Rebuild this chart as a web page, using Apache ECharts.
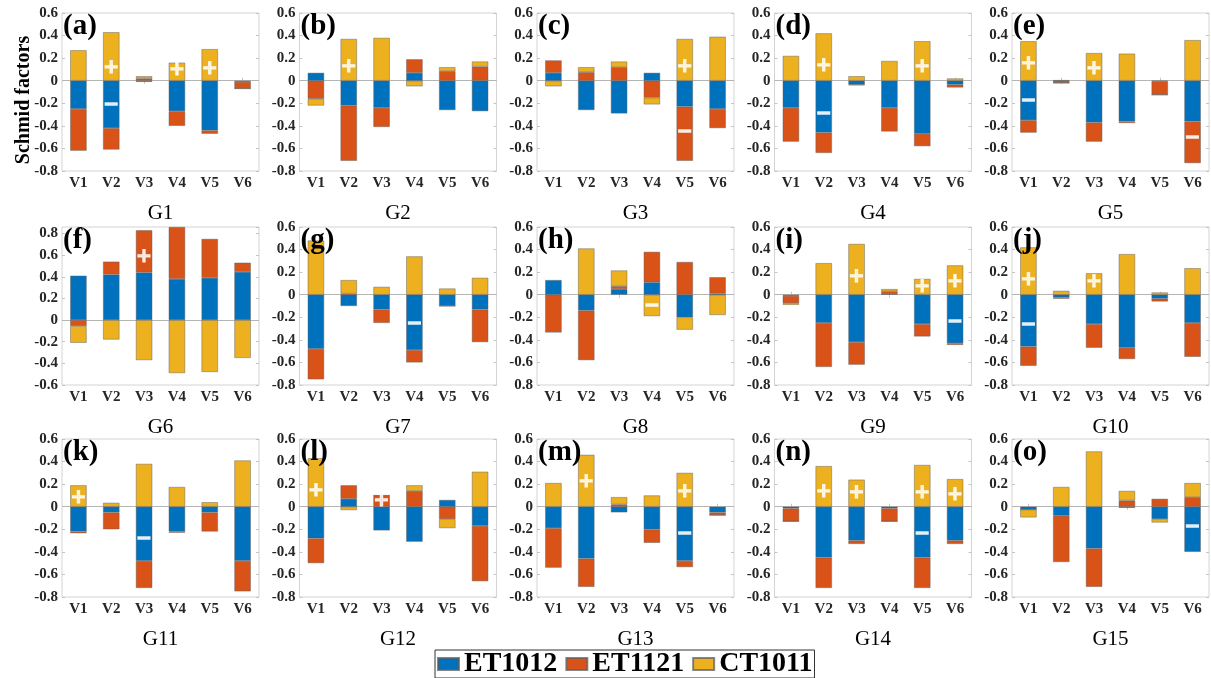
<!DOCTYPE html>
<html><head><meta charset="utf-8">
<script src="https://cdn.jsdelivr.net/npm/echarts@6/dist/echarts.min.js"></script>
<style>html,body{margin:0;padding:0;background:#fff}#c{width:1211px;height:678px}</style>
</head><body><div id="c"></div>
<script>
const categories = ['V1','V2','V3','V4','V5','V6'];
const groupTitles = ['G1','G2','G3','G4','G5','G6','G7','G8','G9','G10','G11','G12','G13','G14','G15'];
const panelLetters = ['(a)','(b)','(c)','(d)','(e)','(f)','(g)','(h)','(i)','(j)','(k)','(l)','(m)','(n)','(o)'];
const seriesNames = ['ET1012','ET1121','CT1011'];

// one row of 6 values (V1..V6) per panel G1..G15
const et1012 = [
  [-0.25,-0.42,-0.01,-0.27,-0.44,-0.01],
  [0.07,-0.22,-0.24,0.07,-0.26,-0.27],
  [0.07,-0.26,-0.29,0.07,-0.23,-0.25],
  [-0.24,-0.46,-0.035,-0.24,-0.47,-0.035],
  [-0.35,0.005,-0.37,-0.36,-0.005,-0.36],
  [0.41,0.42,0.44,0.38,0.39,0.445],
  [-0.48,-0.10,-0.13,-0.49,-0.10,-0.13],
  [0.13,-0.14,0.05,0.11,-0.20,0.01],
  [-0.01,-0.25,-0.42,0.005,-0.26,-0.43],
  [-0.46,-0.025,-0.26,-0.47,-0.035,-0.25],
  [-0.22,-0.05,-0.48,-0.22,-0.05,-0.48],
  [-0.28,0.07,-0.21,-0.31,0.06,-0.17],
  [-0.19,-0.46,-0.05,-0.20,-0.48,-0.05],
  [-0.015,-0.45,-0.30,-0.015,-0.45,-0.30],
  [-0.025,-0.08,-0.37,-0.01,-0.11,-0.40]
];
const et1121 = [
  [-0.37,-0.19,0.02,-0.13,-0.03,-0.06],
  [-0.16,-0.49,-0.17,0.12,0.085,0.125],
  [0.11,0.075,0.12,-0.15,-0.48,-0.17],
  [-0.30,-0.18,-0.005,-0.21,-0.11,-0.025],
  [-0.11,-0.02,-0.17,-0.015,-0.12,-0.37],
  [-0.055,0.12,0.39,0.48,0.36,0.085],
  [-0.27,0.01,-0.12,-0.11,0,-0.29],
  [-0.33,-0.44,0.025,0.27,0.29,0.145],
  [-0.065,-0.39,-0.20,0.025,-0.11,-0.015],
  [-0.17,-0.01,-0.21,-0.10,-0.025,-0.30],
  [-0.015,-0.15,-0.24,-0.01,-0.17,-0.27],
  [-0.22,0.12,0.10,0.14,-0.11,-0.49],
  [-0.35,-0.25,0.02,-0.12,-0.055,-0.025],
  [-0.115,-0.27,-0.03,-0.115,-0.27,-0.03],
  [0,-0.41,-0.34,0.055,0.07,0.085]
];
const ct1011 = [
  [0.27,0.43,0.02,0.16,0.28,0],
  [-0.06,0.37,0.38,-0.05,0.035,0.045],
  [-0.05,0.045,0.05,-0.06,0.37,0.39],
  [0.22,0.42,0.04,0.175,0.35,0.02],
  [0.35,0,0.245,0.24,0,0.36],
  [-0.155,-0.18,-0.37,-0.49,-0.48,-0.35],
  [0.48,0.12,0.07,0.34,0.055,0.15],
  [0,0.41,0.14,-0.19,-0.11,-0.18],
  [-0.015,0.28,0.45,0.02,0.14,0.26],
  [0.42,0.035,0.19,0.36,0.02,0.235],
  [0.19,0.035,0.38,0.175,0.04,0.41],
  [0.43,-0.03,0,0.05,-0.08,0.31],
  [0.21,0.46,0.065,0.10,0.30,0],
  [0,0.36,0.24,0,0.37,0.245],
  [-0.07,0.175,0.49,0.085,-0.03,0.125]
];
const yMin = [-0.8,-0.8,-0.8,-0.8,-0.8,-0.6,-0.8,-0.8,-0.8,-0.8,-0.8,-0.8,-0.8,-0.8,-0.8];
const yMax = [0.6,0.6,0.6,0.6,0.6,0.86,0.6,0.6,0.6,0.6,0.6,0.6,0.6,0.6,0.6];
// [panel, category index, y, sign]
const signs = [
  [0,1,0.11,'+'],[0,1,-0.22,'−'],[0,3,0.09,'+'],[0,4,0.10,'+'],
  [1,1,0.12,'+'],
  [2,4,0.125,'+'],[2,4,-0.455,'−'],
  [3,1,0.13,'+'],[3,1,-0.295,'−'],[3,4,0.125,'+'],
  [4,0,0.15,'+'],[4,0,-0.18,'−'],[4,2,0.10,'+'],[4,5,-0.51,'−'],
  [5,2,0.58,'+'],
  [6,3,-0.26,'−'],
  [7,3,-0.10,'−'],
  [8,2,0.16,'+'],[8,4,0.07,'+'],[8,5,0.11,'+'],[8,5,-0.24,'−'],
  [9,0,0.13,'+'],[9,0,-0.265,'−'],[9,2,0.11,'+'],
  [10,0,0.08,'+'],[10,2,-0.29,'−'],
  [11,0,0.14,'+'],[11,2,0.047,'+'],
  [12,1,0.215,'+'],[12,4,0.13,'+'],[12,4,-0.245,'−'],
  [13,1,0.133,'+'],[13,2,0.12,'+'],[13,4,0.12,'+'],[13,4,-0.245,'−'],[13,5,0.105,'+'],
  [14,5,-0.177,'−']
];

const colors = ['#0072BD','#D95319','#EDB120'];
const values = [et1012, et1121, ct1011];
const SERIF = 'Liberation Serif';
const W = 197, H = 158;
const colLeft = c => 62 + 237.5 * c;
const rowTop = [13, 227, 439];
const tickColor = '#c4c4c4';
const labelColor = '#262626';

const grids = [], xAxes = [], yAxes = [], series = [], graphics = [];
function fmt(v, p) {
  const r = Math.round(v * 10) / 10;
  if (p === 7 && r === -0.8) return '0.8';
  return r === 0 ? '0' : String(r);
}
for (let p = 0; p < 15; p++) {
  const c = p % 5, r = Math.floor(p / 5);
  grids.push({left: colLeft(c), top: rowTop[r], width: W, height: H, show: true,
    borderColor: '#d4d4d4', borderWidth: 1, backgroundColor: 'transparent', containLabel: false});
}
for (let p = 0; p < 15; p++) {
  xAxes.push({gridIndex: p, type: 'category', data: categories, position: 'bottom',
    axisLine: {show: false},
    axisTick: {show: true, inside: true, alignWithLabel: true, length: 3, lineStyle: {color: tickColor}},
    axisLabel: {margin: 5, fontFamily: SERIF, fontWeight: 'bold', fontSize: 15, color: labelColor},
    name: groupTitles[p], nameLocation: 'middle', nameGap: 32,
    nameTextStyle: {fontFamily: SERIF, fontSize: 21, color: '#000'}});
}
for (let p = 0; p < 15; p++) {
  xAxes.push({gridIndex: p, type: 'category', data: categories, position: 'top',
    axisLine: {show: false}, axisLabel: {show: false},
    axisTick: {show: true, inside: true, alignWithLabel: true, length: 3, lineStyle: {color: tickColor}}});
}
for (let p = 0; p < 15; p++) {
  yAxes.push({gridIndex: p, type: 'value', position: 'left', min: yMin[p], max: yMax[p], interval: 0.2,
    axisLine: {show: false}, splitLine: {show: false},
    axisTick: {show: true, inside: true, length: 3, lineStyle: {color: tickColor}},
    axisLabel: {margin: 4, showMaxLabel: p !== 5, fontFamily: SERIF, fontWeight: 'bold', fontSize: 15, color: labelColor,
      formatter: (v) => fmt(v, p)}});
}
for (let p = 0; p < 15; p++) {
  yAxes.push({gridIndex: p, type: 'value', position: 'right', min: yMin[p], max: yMax[p], interval: 0.2,
    axisLine: {show: false}, splitLine: {show: false}, axisLabel: {show: false},
    axisTick: {show: true, inside: true, length: 3, lineStyle: {color: tickColor}}});
}
for (let p = 0; p < 15; p++) {
  for (let s = 0; s < 3; s++) {
    const ser = {type: 'bar', name: seriesNames[s], xAxisIndex: p, yAxisIndex: p, stack: 'p' + p,
      barWidth: '50%', data: values[s][p], z: 3,
      itemStyle: {color: colors[s], borderColor: 'rgba(95,95,95,0.75)', borderWidth: 0.6},
      emphasis: {disabled: true}};
    if (s === 0) {
      ser.markLine = {silent: true, symbol: 'none', label: {show: false}, z: 1,
        lineStyle: {color: '#b5b5b5', width: 1, type: 'solid'}, data: [{yAxis: 0}]};
    }
    series.push(ser);
  }
  const sg = signs.filter(d => d[0] === p).map(d => ({value: [d[1], d[2]], sign: d[3]}));
  if (sg.length) {
    series.push({type: 'scatter', xAxisIndex: p, yAxisIndex: p, z: 10, symbolSize: 1,
      itemStyle: {color: 'rgba(0,0,0,0)'}, silent: true,
      data: sg.map(d => ({value: d.value, label: {formatter: d.sign}})),
      label: {show: true, position: 'inside', color: '#fff', fontFamily: 'DejaVu Sans',
        fontWeight: 'bold', fontSize: 19, textBorderColor: '#fff', textBorderWidth: 1.2}});
  }
  const c = p % 5, r = Math.floor(p / 5);
  graphics.push({type: 'text', z: 100, x: colLeft(c) + 1, y: rowTop[r] + 14,
    style: {text: panelLetters[p], font: 'bold 29px "Liberation Serif"', fill: '#000',
      textAlign: 'left', verticalAlign: 'middle'}});
}
graphics.push({type: 'text', z: 100, x: 24, y: 100, rotation: Math.PI / 2,
  style: {text: 'Schmid factors', font: 'bold 20px "Liberation Serif"', fill: '#000',
    textAlign: 'center', verticalAlign: 'middle'}});

const chart = echarts.init(document.getElementById('c'), null, {renderer: 'canvas'});
chart.setOption({
  animation: false,
  backgroundColor: '#fff',
  grid: grids, xAxis: xAxes, yAxis: yAxes, series: series, graphic: graphics,
  legend: {data: seriesNames, left: 435, top: 650, orient: 'horizontal', icon: 'rect',
    itemWidth: 21, itemHeight: 12, itemGap: 8, padding: [0, 2],
    borderColor: '#333', borderWidth: 1, selectedMode: false,
    textStyle: {fontFamily: SERIF, fontWeight: 'bold', fontSize: 28, color: '#000', lineHeight: 25}}
});
</script></body></html>
